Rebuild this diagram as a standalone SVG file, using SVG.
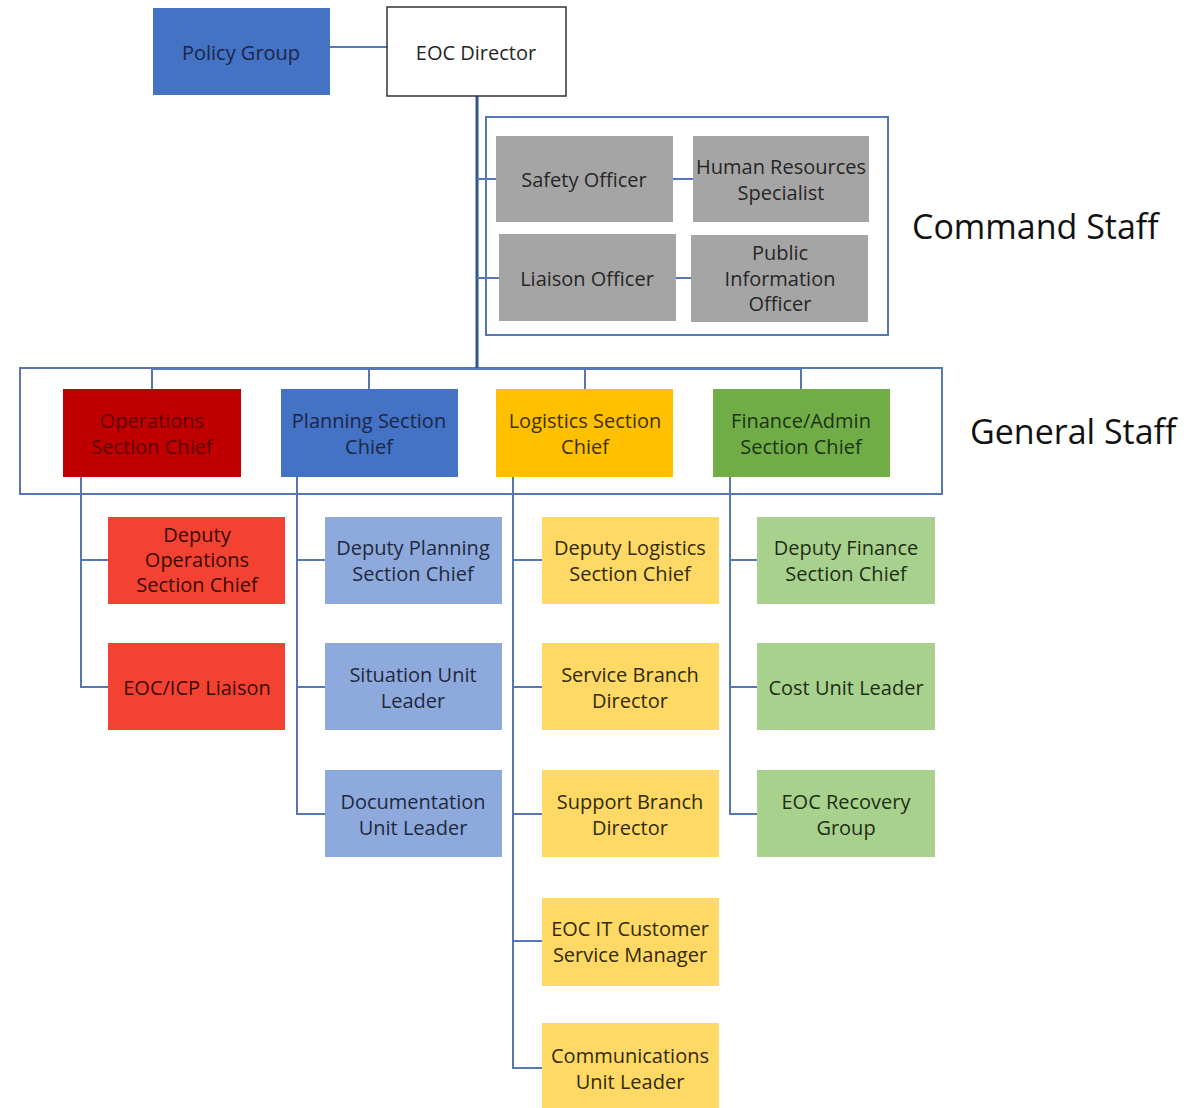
<svg xmlns="http://www.w3.org/2000/svg" width="1202" height="1108" viewBox="0 0 1202 1108">
<style>
text{font-family:"Open Sans","Noto Sans","Liberation Sans",sans-serif;font-size:20px;text-anchor:middle;dominant-baseline:central}
.big{font-size:34px;fill:#111;text-anchor:start}
.frame{fill:none;stroke:#5677B5;stroke-width:2}
.c{fill:none;stroke:#5677B5;stroke-width:2}
.main{fill:none;stroke:#2F5597;stroke-width:3}
.blue{fill:#4472C4}.blue-t{fill:#1B2748}
.gray{fill:#A6A5A5}.gray-t{fill:#262626}
.red{fill:#C00000}.red-t{fill:#5C0000}
.yel{fill:#FFC000}.yel-t{fill:#3E3000}
.grn{fill:#70AD47}.grn-t{fill:#1E3313}
.lred{fill:#F44232}.lred-t{fill:#3A0A05}
.lblue{fill:#8EA9DB}.lblue-t{fill:#1F2A40}
.lyel{fill:#FFD966}.lyel-t{fill:#332A08}
.lgrn{fill:#A9D18E}.lgrn-t{fill:#1E2E14}
</style>
<rect width="1202" height="1108" fill="#fff"/>
<rect class="frame" x="486" y="117" width="402" height="218"/>
<rect class="frame" x="20" y="368" width="922" height="126"/>
<g id="connectors">
<line class="c" x1="330" y1="47" x2="387" y2="47"/>
<line class="main" x1="477" y1="96" x2="477" y2="369"/>
<line class="c" x1="477" y1="179" x2="496" y2="179"/>
<line class="c" x1="477" y1="278" x2="499" y2="278"/>
<line class="c" x1="673" y1="179" x2="693" y2="179"/>
<line class="c" x1="676" y1="278" x2="691" y2="278"/>
<polyline class="c" points="152,389 152,369 801,369 801,389"/>
<line class="c" x1="369" y1="369" x2="369" y2="389"/>
<line class="c" x1="585" y1="369" x2="585" y2="389"/>
<polyline class="c" points="81,477 81,687 108,687"/>
<line class="c" x1="81" y1="560" x2="108" y2="560"/>
<polyline class="c" points="297,477 297,814 325,814"/>
<line class="c" x1="297" y1="560" x2="325" y2="560"/>
<line class="c" x1="297" y1="687" x2="325" y2="687"/>
<polyline class="c" points="513,477 513,1068 542,1068"/>
<line class="c" x1="513" y1="560" x2="542" y2="560"/>
<line class="c" x1="513" y1="687" x2="542" y2="687"/>
<line class="c" x1="513" y1="814" x2="542" y2="814"/>
<line class="c" x1="513" y1="941" x2="542" y2="941"/>
<polyline class="c" points="730,477 730,814 757,814"/>
<line class="c" x1="730" y1="560" x2="757" y2="560"/>
<line class="c" x1="730" y1="687" x2="757" y2="687"/>
</g>
<g id="policy-group"><rect class="blue" x="153" y="8" width="177" height="87"/><text class="blue-t" x="241" y="52">Policy Group</text></g>
<g id="eoc-director"><rect x="387" y="7" width="179" height="89" fill="#fff" stroke="#333" stroke-width="1.5"/><text x="476" y="52" fill="#262626">EOC Director</text></g>
<g id="safety-officer"><rect class="gray" x="496" y="136" width="177" height="86"/><text class="gray-t" x="584" y="179">Safety Officer</text></g>
<g id="hr-specialist"><rect class="gray" x="693" y="136" width="176" height="86"/><text class="gray-t" x="781" y="166">Human Resources</text><text class="gray-t" x="781" y="192">Specialist</text></g>
<g id="liaison-officer"><rect class="gray" x="499" y="234" width="177" height="87"/><text class="gray-t" x="587" y="278">Liaison Officer</text></g>
<g id="pio"><rect class="gray" x="691" y="235" width="177" height="87"/><text class="gray-t" x="780" y="252">Public</text><text class="gray-t" x="780" y="278">Information</text><text class="gray-t" x="780" y="303">Officer</text></g>
<text class="big" x="912" y="226">Command Staff</text>
<text class="big" x="970" y="431">General Staff</text>
<g id="ops-chief"><rect class="red" x="63" y="389" width="178" height="88"/><text class="red-t" x="152" y="420">Operations</text><text class="red-t" x="152" y="446">Section Chief</text></g>
<g id="planning-chief"><rect class="blue" x="281" y="389" width="177" height="88"/><text class="blue-t" x="369" y="420">Planning Section</text><text class="blue-t" x="369" y="446">Chief</text></g>
<g id="logistics-chief"><rect class="yel" x="496" y="389" width="177" height="88"/><text class="yel-t" x="585" y="420">Logistics Section</text><text class="yel-t" x="585" y="446">Chief</text></g>
<g id="finance-chief"><rect class="grn" x="713" y="389" width="177" height="88"/><text class="grn-t" x="801" y="420">Finance/Admin</text><text class="grn-t" x="801" y="446">Section Chief</text></g>
<g id="deputy-ops"><rect class="lred" x="108" y="517" width="177" height="87"/><text class="lred-t" x="197" y="534">Deputy</text><text class="lred-t" x="197" y="559">Operations</text><text class="lred-t" x="197" y="584">Section Chief</text></g>
<g id="eoc-icp-liaison"><rect class="lred" x="108" y="643" width="177" height="87"/><text class="lred-t" x="197" y="687">EOC/ICP Liaison</text></g>
<g id="deputy-planning"><rect class="lblue" x="325" y="517" width="177" height="87"/><text class="lblue-t" x="413" y="547">Deputy Planning</text><text class="lblue-t" x="413" y="573">Section Chief</text></g>
<g id="situation-unit"><rect class="lblue" x="325" y="643" width="177" height="87"/><text class="lblue-t" x="413" y="674">Situation Unit</text><text class="lblue-t" x="413" y="700">Leader</text></g>
<g id="documentation-unit"><rect class="lblue" x="325" y="770" width="177" height="87"/><text class="lblue-t" x="413" y="801">Documentation</text><text class="lblue-t" x="413" y="827">Unit Leader</text></g>
<g id="deputy-logistics"><rect class="lyel" x="542" y="517" width="177" height="87"/><text class="lyel-t" x="630" y="547">Deputy Logistics</text><text class="lyel-t" x="630" y="573">Section Chief</text></g>
<g id="service-branch"><rect class="lyel" x="542" y="643" width="177" height="87"/><text class="lyel-t" x="630" y="674">Service Branch</text><text class="lyel-t" x="630" y="700">Director</text></g>
<g id="support-branch"><rect class="lyel" x="542" y="770" width="177" height="87"/><text class="lyel-t" x="630" y="801">Support Branch</text><text class="lyel-t" x="630" y="827">Director</text></g>
<g id="eoc-it"><rect class="lyel" x="542" y="898" width="177" height="88"/><text class="lyel-t" x="630" y="928">EOC IT Customer</text><text class="lyel-t" x="630" y="954">Service Manager</text></g>
<g id="communications-unit"><rect class="lyel" x="542" y="1023" width="177" height="87"/><text class="lyel-t" x="630" y="1055">Communications</text><text class="lyel-t" x="630" y="1081">Unit Leader</text></g>
<g id="deputy-finance"><rect class="lgrn" x="757" y="517" width="178" height="87"/><text class="lgrn-t" x="846" y="547">Deputy Finance</text><text class="lgrn-t" x="846" y="573">Section Chief</text></g>
<g id="cost-unit"><rect class="lgrn" x="757" y="643" width="178" height="87"/><text class="lgrn-t" x="846" y="687">Cost Unit Leader</text></g>
<g id="eoc-recovery"><rect class="lgrn" x="757" y="770" width="178" height="87"/><text class="lgrn-t" x="846" y="801">EOC Recovery</text><text class="lgrn-t" x="846" y="827">Group</text></g>
</svg>
